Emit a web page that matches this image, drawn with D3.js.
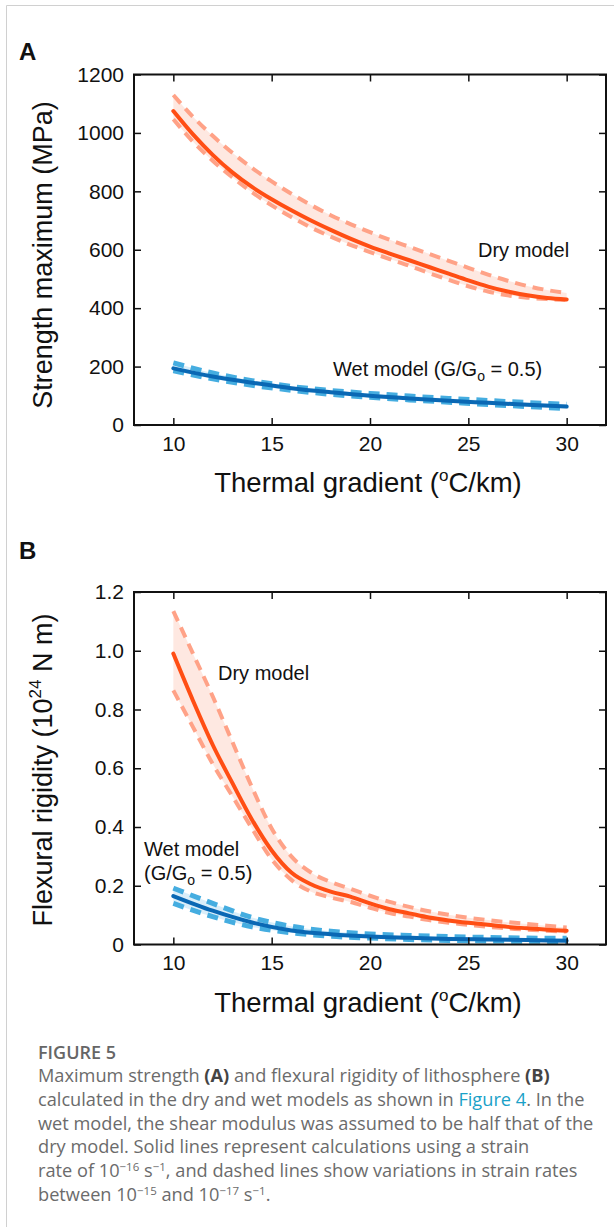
<!DOCTYPE html>
<html>
<head>
<meta charset="utf-8">
<script src="https://cdn.jsdelivr.net/npm/d3@7"></script>
<style>
  body { margin: 0; background: #fff; }
  svg { display: block; }
  .chart text { font-family: "Liberation Sans", Arial, Helvetica, sans-serif; fill: #111; }
  .caption { font-family: "Open Sans", sans-serif; fill: #6b6b6b; }
</style>
</head>
<body>
<script>
// ---------------- data ----------------
const gradDry = [10, 11, 12, 13, 14, 15, 16, 17, 18, 19, 20, 21, 22, 23, 24, 25, 26, 27, 28, 29, 30];
const gradWet = [10, 12, 14, 16, 18, 20, 22, 24, 26, 28, 30];

// panel A: strength maximum (MPa)
const strengthDry   = [1075, 995, 925, 865, 815, 773, 735, 700, 668, 638, 611, 587, 564, 541, 518, 495, 474, 457, 444, 435, 430];
const strengthDryHi = [1130, 1055, 990, 932, 880, 834, 792, 753, 718, 688, 660, 634, 610, 586, 562, 538, 515, 494, 476, 462, 452];
const strengthDryLo = [1047, 970, 905, 848, 797, 752, 712, 676, 645, 617, 592, 568, 545, 520, 497, 475, 457, 444, 436, 431, 428];
const strengthWet   = [194, 166, 145, 126, 112, 100, 91, 83, 76, 69, 63];
const strengthWetHi = [213, 178, 152, 132, 118, 108, 99, 91, 84, 77, 71];
const strengthWetLo = [186, 158, 136, 119, 105, 95, 86, 78, 70, 63, 56];

// panel B: flexural rigidity (10^24 N m)
const rigidityDry   = [0.99, 0.83, 0.68, 0.55, 0.425, 0.32, 0.245, 0.205, 0.18, 0.163, 0.14, 0.12, 0.106, 0.092, 0.082, 0.074, 0.067, 0.06, 0.055, 0.05, 0.047];
const rigidityDryHi = [1.135, 0.99, 0.845, 0.69, 0.535, 0.395, 0.30, 0.245, 0.213, 0.19, 0.166, 0.145, 0.128, 0.113, 0.101, 0.091, 0.083, 0.076, 0.07, 0.064, 0.058];
const rigidityDryLo = [0.865, 0.74, 0.615, 0.505, 0.395, 0.29, 0.22, 0.18, 0.16, 0.145, 0.125, 0.107, 0.095, 0.083, 0.074, 0.067, 0.06, 0.055, 0.05, 0.047, 0.044];
const rigidityWet   = [0.165, 0.115, 0.075, 0.048, 0.035, 0.027, 0.023, 0.019, 0.017, 0.015, 0.013];
const rigidityWetHi = [0.192, 0.14, 0.092, 0.062, 0.045, 0.036, 0.031, 0.027, 0.024, 0.022, 0.021];
const rigidityWetLo = [0.14, 0.095, 0.06, 0.04, 0.028, 0.022, 0.017, 0.014, 0.012, 0.011, 0.010];

const xTicks = [10, 15, 20, 25, 30];
const strengthTicks = [0, 200, 400, 600, 800, 1000, 1200];
const rigidityTicks = [0, 0.2, 0.4, 0.6, 0.8, 1.0, 1.2];

const captionLines = [
  [["Maximum strength ", 0], ["(A)", 1], [" and flexural rigidity of lithosphere ", 0], ["(B)", 1]],
  [["calculated in the dry and wet models as shown in ", 0], ["Figure 4", 2], [". In the", 0]],
  [["wet model, the shear modulus was assumed to be half that of the", 0]],
  [["dry model. Solid lines represent calculations using a strain", 0]],
  [["rate of 10", 0], ["\u221216", 3], [" s", 0], ["\u22121", 3], [", and dashed lines show variations in strain rates", 0]],
  [["between 10", 0], ["\u221215", 3], [" and 10", 0], ["\u221217", 3], [" s", 0], ["\u22121", 3], [".", 0]]
];

// ---------------- colours ----------------
const drySolid = "#ff4e14", dryDash = "#ffa287", dryFill = "#fee6de";
const wetSolid = "#0a68b4", wetDash = "#45ade0", wetFill = "#d6ecf8";

const W = 614, H = 1227;
const svg = d3.select("body").append("svg")
  .attr("width", W).attr("height", H);

svg.append("rect").attr("width", W).attr("height", H).attr("fill", "#fff");

// light page frame
svg.append("path")
  .attr("d", "M6.5,1227 V5.5 H614")
  .attr("fill", "none").attr("stroke", "#d0d0d0").attr("stroke-width", 1);

const chart = svg.append("g").attr("class", "chart");

function drawPanel(o) {
  const x = d3.scaleLinear().domain([8, 32]).range([134, 606]);
  const y = d3.scaleLinear().domain(o.yDomain).range([o.bottom, o.top]);
  const g = chart.append("g");

  const line = (xs) => d3.line().x((d, i) => x(xs[i])).y(d => y(d)).curve(d3.curveMonotoneX);
  const area = (xs, lo) => d3.area().x((d, i) => x(xs[i])).y0((d, i) => y(lo[i])).y1(d => y(d)).curve(d3.curveMonotoneX);

  o.series.forEach(s => {
    g.append("path").datum(s.hi).attr("d", area(s.xs, s.lo))
      .attr("fill", s.fill).attr("opacity", 0.9);
  });
  o.series.forEach(s => {
    [s.hi, s.lo].forEach(arr => {
      g.append("path").datum(arr).attr("d", line(s.xs))
        .attr("fill", "none").attr("stroke", s.dash).attr("stroke-width", s.dw)
        .attr("stroke-dasharray", "11,7");
    });
    g.append("path").datum(s.mid).attr("d", line(s.xs))
      .attr("fill", "none").attr("stroke", s.solid).attr("stroke-width", 4)
      .attr("stroke-linecap", "round");
  });

  // axes with inward ticks
  const styleAxis = (sel, showText) => {
    sel.select(".domain").remove();
    sel.selectAll(".tick line").attr("stroke", "#111").attr("stroke-width", 1.5);
    sel.selectAll(".tick text").attr("font-size", 21).attr("fill", "#111")
      .attr("font-family", "Liberation Sans, Arial, sans-serif");
    if (!showText) sel.selectAll(".tick text").remove();
  };
  g.append("g").attr("transform", `translate(0,${o.bottom})`)
    .call(d3.axisBottom(x).tickValues(xTicks).tickSizeInner(-7).tickSizeOuter(0).tickPadding(11))
    .call(s => styleAxis(s, true));
  g.append("g").attr("transform", `translate(0,${o.top})`)
    .call(d3.axisTop(x).tickValues(xTicks).tickSizeInner(-7).tickSizeOuter(0))
    .call(s => styleAxis(s, false));
  g.append("g").attr("transform", "translate(134,0)")
    .call(d3.axisLeft(y).tickValues(o.yTicks).tickFormat(o.fmt).tickSizeInner(-7).tickSizeOuter(0).tickPadding(10))
    .call(s => styleAxis(s, true));
  g.append("g").attr("transform", "translate(606,0)")
    .call(d3.axisRight(y).tickValues(o.yTicks).tickSizeInner(-7).tickSizeOuter(0))
    .call(s => styleAxis(s, false));

  g.append("rect")
    .attr("x", 134).attr("y", o.top).attr("width", 606 - 134).attr("height", o.bottom - o.top)
    .attr("fill", "none").attr("stroke", "#111").attr("stroke-width", 2);

  // panel letter
  g.append("text").attr("x", 19).attr("y", o.letterY)
    .attr("font-size", 24).attr("font-weight", "bold").text(o.letter);

  // x label
  const xl = g.append("text").attr("x", 368).attr("y", o.bottom + 67)
    .attr("text-anchor", "middle").attr("font-size", 27.5);
  xl.append("tspan").text("Thermal gradient (");
  xl.append("tspan").attr("font-size", 17).attr("dy", -11).text("o");
  xl.append("tspan").attr("dy", 11).text("C/km)");

  // y label
  const yl = g.append("text")
    .attr("transform", `translate(52,${o.yLabelY}) rotate(-90)`)
    .attr("text-anchor", "middle").attr("font-size", 27);
  o.yLabel(yl);

  o.notes.forEach(n => {
    const t = g.append("text").attr("x", n.x).attr("y", n.y).attr("font-size", 20);
    n.parts.forEach(p => {
      const ts = t.append("tspan").text(p[0]);
      if (p[1] === "sub") ts.attr("font-size", 14).attr("dy", 5);
      if (p[1] === "back") ts.attr("dy", -5);
    });
  });
}

const wetLabel = [["Wet model (G/G", ""], ["o", "sub"], [" = 0.5)", "back"]];

drawPanel({
  letter: "A", letterY: 60, top: 74.5, bottom: 425,
  yDomain: [0, 1200], yTicks: strengthTicks, fmt: d3.format("d"),
  yLabelY: 255,
  yLabel: t => t.text("Strength maximum (MPa)"),
  series: [
    { xs: gradDry, mid: strengthDry, hi: strengthDryHi, lo: strengthDryLo, solid: drySolid, dash: dryDash, fill: dryFill, dw: 4 },
    { xs: gradWet, mid: strengthWet, hi: strengthWetHi, lo: strengthWetLo, solid: wetSolid, dash: wetDash, fill: wetFill, dw: 5 }
  ],
  notes: [
    { x: 478, y: 257, parts: [["Dry model", ""]] },
    { x: 333, y: 376, parts: wetLabel }
  ]
});

drawPanel({
  letter: "B", letterY: 559, top: 592, bottom: 944.5,
  yDomain: [0, 1.2], yTicks: rigidityTicks, fmt: d => d === 0 ? "0" : d3.format(".1f")(d),
  yLabelY: 770,
  yLabel: t => {
    t.append("tspan").text("Flexural rigidity (10");
    t.append("tspan").attr("font-size", 17).attr("dy", -11).text("24");
    t.append("tspan").attr("dy", 11).text(" N m)");
  },
  series: [
    { xs: gradDry, mid: rigidityDry, hi: rigidityDryHi, lo: rigidityDryLo, solid: drySolid, dash: dryDash, fill: dryFill, dw: 4 },
    { xs: gradWet, mid: rigidityWet, hi: rigidityWetHi, lo: rigidityWetLo, solid: wetSolid, dash: wetDash, fill: wetFill, dw: 5 }
  ],
  notes: [
    { x: 218, y: 680, parts: [["Dry model", ""]] },
    { x: 144, y: 856, parts: [["Wet model", ""]] },
    { x: 144, y: 880, parts: [["(G/G", ""], ["o", "sub"], [" = 0.5)", "back"]] }
  ]
});

// ---------------- caption ----------------
const cap = svg.append("g").attr("class", "caption");
cap.append("text").attr("x", 38).attr("y", 1059)
  .attr("font-size", 18).attr("font-weight", 600).attr("fill", "#666").text("FIGURE 5");

captionLines.forEach((parts, i) => {
  const t = cap.append("text").attr("x", 38).attr("y", 1082 + i * 23.8).attr("font-size", 18.2);
  let raised = false;
  parts.forEach(([s, kind]) => {
    const ts = t.append("tspan").text(s);
    if (kind === 1) ts.attr("font-weight", 700).attr("fill", "#444");
    if (kind === 2) ts.attr("fill", "#1aa1c8");
    if (kind === 3) { ts.attr("font-size", 11.5).attr("dy", raised ? 0 : -6.5); raised = true; }
    else if (raised) { ts.attr("dy", 6.5); raised = false; }
  });
});
</script>
</body>
</html>
